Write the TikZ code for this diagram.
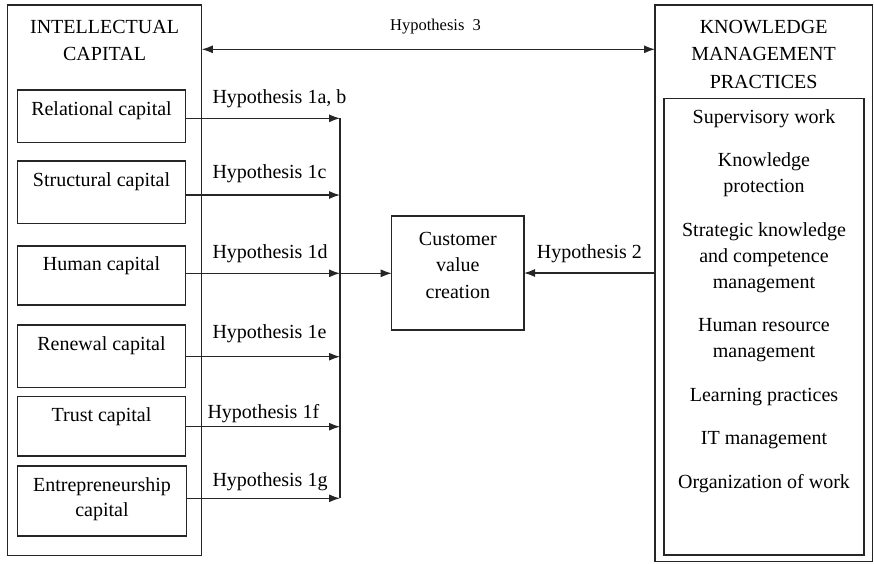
\documentclass[tikz,border=0pt]{standalone}
\usepackage{fontspec}
\setmainfont{Liberation Serif}
\usetikzlibrary{arrows.meta}

\tikzset{
  frame/.style={draw=black!85, line width=1.2pt, inner sep=0pt, outer sep=0pt, anchor=north west},
  capbox/.style={frame, minimum width=168.4pt},
  boxtext/.style={anchor=base, inner sep=0pt, align=center, font=\fontsize{20}{25}\selectfont},
  hyp/.style={anchor=base west, inner sep=0pt, font=\fontsize{20}{25}\selectfont},
  link/.style={draw=black!85, line width=1.2pt, -{Latex[length=11pt,width=8pt]}},
  bus/.style={draw=black!85, line width=1.2pt}
}

\begin{document}
\begin{tikzpicture}[x=1pt, y=-1pt]
    \useasboundingbox (0,0) rectangle (874,563);

    % Intellectual capital (label shifts are to the last baseline)
    \node (IC) [frame, minimum width=194.5pt, minimum height=550.3pt,
      label={[boxtext, font=\fontsize{20}{27}\selectfont, yshift=-55pt]north:INTELLECTUAL\\CAPITAL}] at (7.3,5) {};
    \node (R1) [capbox, minimum height=52.7pt, label={[boxtext, yshift=-25pt]north:Relational capital}] at (17.3,90) {};
    \node (R2) [capbox, minimum height=62.3pt, label={[boxtext, yshift=-25.7pt]north:Structural capital}] at (17.3,161) {};
    \node (R3) [capbox, minimum height=59pt, label={[boxtext, yshift=-24pt]north:Human capital}] at (17.3,246) {};
    \node (R4) [capbox, minimum height=62.7pt, label={[boxtext, yshift=-25pt]north:Renewal capital}] at (17.3,325) {};
    \node (R5) [capbox, minimum height=59.3pt, label={[boxtext, yshift=-25pt]north:Trust capital}] at (17.3,396.7) {};
    \node (R6) [capbox, minimum width=169.4pt, minimum height=70pt,
      label={[boxtext, yshift=-50.7pt]north:Entrepreneurship\\capital}] at (17.3,466) {};

    % Customer value creation
    \node (CVC) [frame, minimum width=132.3pt, minimum height=114pt,
      label={[boxtext, font=\fontsize{20}{26.5}\selectfont, yshift=-82pt]north:Customer\\value\\creation}] at (391.7,216) {};

    % Knowledge management practices
    \node (KM) [frame, minimum width=217.3pt, minimum height=556.5pt,
      label={[boxtext, font=\fontsize{20}{27.5}\selectfont, yshift=-83pt]north:KNOWLEDGE\\MANAGEMENT\\PRACTICES}] at (655,5) {};
    \node (KMP) [frame, minimum width=200pt, minimum height=456.7pt,
      label={[boxtext, font=\fontsize{20}{26}\selectfont, yshift=-390pt]north:Supervisory work\\[17.5pt]
        Knowledge\\protection\\[17.5pt]
        Strategic knowledge\\and competence\\management\\[17.5pt]
        Human resource\\management\\[17.5pt]
        Learning practices\\[17.5pt]
        IT management\\[17.5pt]
        Organization of work}] at (664,98.3) {};

    % links into the collector line
    \coordinate (h1) at (340,118.3);
    \coordinate (h2) at (340,195);
    \coordinate (h3) at (340,273.3);
    \coordinate (h4) at (340,356.7);
    \coordinate (h5) at (340,426.7);
    \coordinate (h6) at (340,498.3);
    \draw[link] (R1.east |- h1) -- (h1);
    \draw[link] (R2.east |- h2) -- (h2);
    \draw[link] (R3.east |- h3) -- (h3);
    \draw[link] (R4.east |- h4) -- (h4);
    \draw[link] (R5.east |- h5) -- (h5);
    \draw[link] (R6.east |- h6) -- (h6);
    \draw[bus] (h1) -- (h6);
    \draw[link] (h3) -- (h3 -| CVC.west);

    \node (H1ab) [hyp] at (212.3,103.3) {Hypothesis 1a, b};
    \node (H1c) [hyp] at (212.3,178.3) {Hypothesis 1c};
    \node (H1d) [hyp] at (212.3,258.3) {Hypothesis 1d};
    \node (H1e) [hyp] at (212.3,338.3) {Hypothesis 1e};
    \node (H1f) [hyp] at (207.3,418.3) {Hypothesis 1f};
    \node (H1g) [hyp] at (212.3,486.7) {Hypothesis 1g};

    % Hypothesis 2
    \draw[link] (CVC.east -| KM.west) -- (CVC.east);
    \node (H2) [hyp] at (536.7,258.3) {Hypothesis 2};

    % Hypothesis 3
    \draw[link, {Latex[length=11pt,width=8pt]}-{Latex[length=11pt,width=8pt]}]
      ([yshift=-44.3pt]IC.north east) -- ([yshift=-44.3pt]KM.north west);
    \node (H3) [hyp, font=\fontsize{16.5}{20}\selectfont] at (390,30) {Hypothesis\ \ 3};
\end{tikzpicture}
\end{document}
